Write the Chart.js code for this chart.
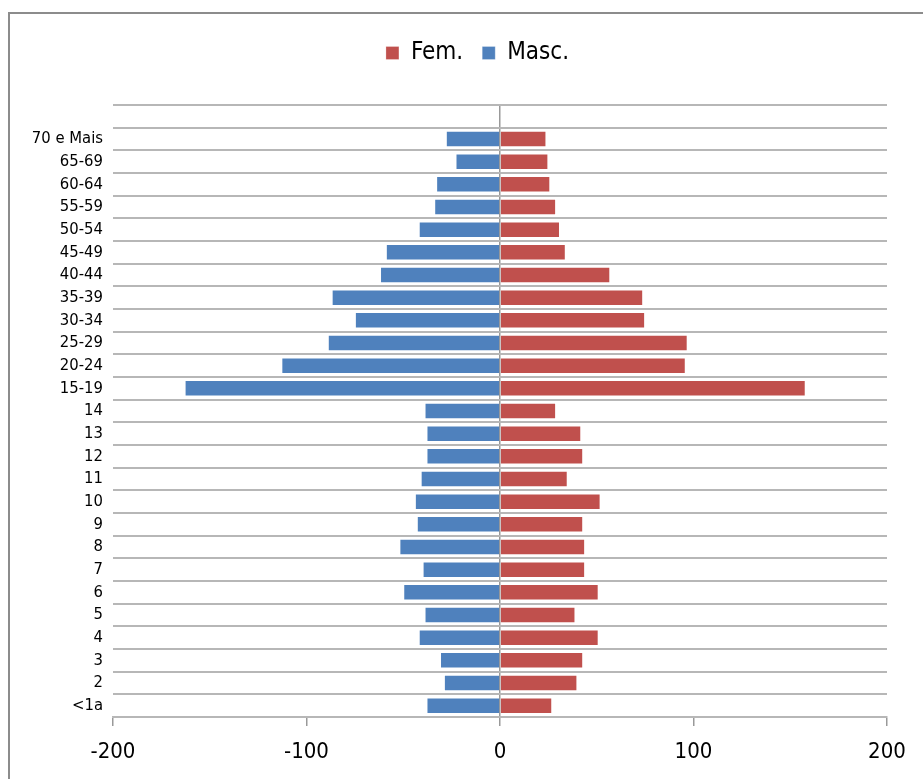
<!DOCTYPE html>
<html>
<head>
<meta charset="utf-8">
<script src="https://cdn.jsdelivr.net/npm/chart.js@4"></script>
<style>
  html, body { margin: 0; padding: 0; background: #fff; overflow: hidden; }
  #frame {
    position: absolute; left: 8px; top: 12px;
    width: 1000px; height: 900px;
    border: 2px solid #8c8c8c;
  }
  #wrap { position: absolute; left: 0; top: 0; width: 923px; height: 779px; }
</style>
</head>
<body>
<div id="frame"></div>
<div id="wrap"><canvas id="my-chart" width="923" height="779"></canvas></div>
<script>
// age groups, top to bottom (first row is left empty like the original)
const labels = ["", "70 e Mais", "65-69", "60-64", "55-59", "50-54", "45-49", "40-44",
  "35-39", "30-34", "25-29", "20-24", "15-19", "14", "13", "12", "11", "10",
  "9", "8", "7", "6", "5", "4", "3", "2", "<1a"];

const fem = [null, 24, 25, 26, 29, 31, 34, 57, 74, 75, 97, 96, 158, 29, 42, 43, 35, 52,
  43, 44, 44, 51, 39, 51, 43, 40, 27];

const masc = [null, -28, -23, -33, -34, -42, -59, -62, -87, -75, -89, -113, -163, -39, -38, -38, -41, -44,
  -43, -52, -40, -50, -39, -42, -31, -29, -38];

const xTicks = [-200, -100, 0, 100, 200];

const fontFamily = "'Liberation Sans Narrow', 'DejaVu Sans Condensed', 'Liberation Sans', sans-serif";
const gridGray = "#b7b7b7";

// extra room under the legend, and centre it over the plot instead of the canvas
const legendSpace = {
  id: "legendSpace",
  beforeInit(chart) {
    const fit = chart.legend.fit;
    chart.legend.fit = function () {
      fit.bind(chart.legend)();
      this.height += 30;
    };
  },
  afterLayout(chart) {
    const legend = chart.legend;
    legend.left = 68;
    legend.width = legend.right - legend.left;
  }
};

const ctx = document.getElementById("my-chart").getContext("2d");

const myChart = new Chart(ctx, {
  type: "bar",
  data: {
    labels,
    datasets: [
      {
        label: "Fem.",
        data: fem,
        backgroundColor: "#C0504D",
        borderColor: "rgba(255,255,255,0.25)",
        borderWidth: 1
      },
      {
        label: "Masc.",
        data: masc,
        backgroundColor: "#4F81BD",
        borderColor: "rgba(255,255,255,0.25)",
        borderWidth: 1
      }
    ]
  },
  options: {
    indexAxis: "y",
    responsive: false,
    animation: false,
    categoryPercentage: 1,
    barPercentage: 0.73,
    layout: { padding: { top: 22, left: 0, right: 36, bottom: 0 } },
    plugins: {
      legend: {
        position: "top",
        labels: {
          color: "#000",
          font: { family: fontFamily, size: 24 },
          boxWidth: 13,
          boxHeight: 13,
          padding: 19
        }
      },
      tooltip: { enabled: false }
    },
    scales: {
      x: {
        stacked: true,
        min: -200,
        max: 200,
        afterBuildTicks(scale) {
          scale.ticks = xTicks.map(v => ({ value: v }));
        },
        afterFit(scale) {
          scale.height = 62;
        },
        grid: {
          color: c => (c.tick && c.tick.value === 0 ? "#999" : "rgba(0,0,0,0)"),
          tickColor: "#999",
          tickLength: 9,
          lineWidth: 1.5
        },
        border: { display: true, color: gridGray, width: 1.5 },
        ticks: {
          color: "#000",
          font: { family: fontFamily, size: 22 },
          padding: 13
        }
      },
      y: {
        stacked: true,
        afterFit(scale) {
          scale.width = 113;
        },
        grid: {
          offset: true,
          color: gridGray,
          lineWidth: 2,
          drawTicks: false
        },
        border: { display: false },
        ticks: {
          color: "#000",
          font: { family: fontFamily, size: 16.5 },
          padding: 10,
          autoSkip: false
        }
      }
    }
  },
  plugins: [legendSpace]
});
</script>
</body>
</html>
